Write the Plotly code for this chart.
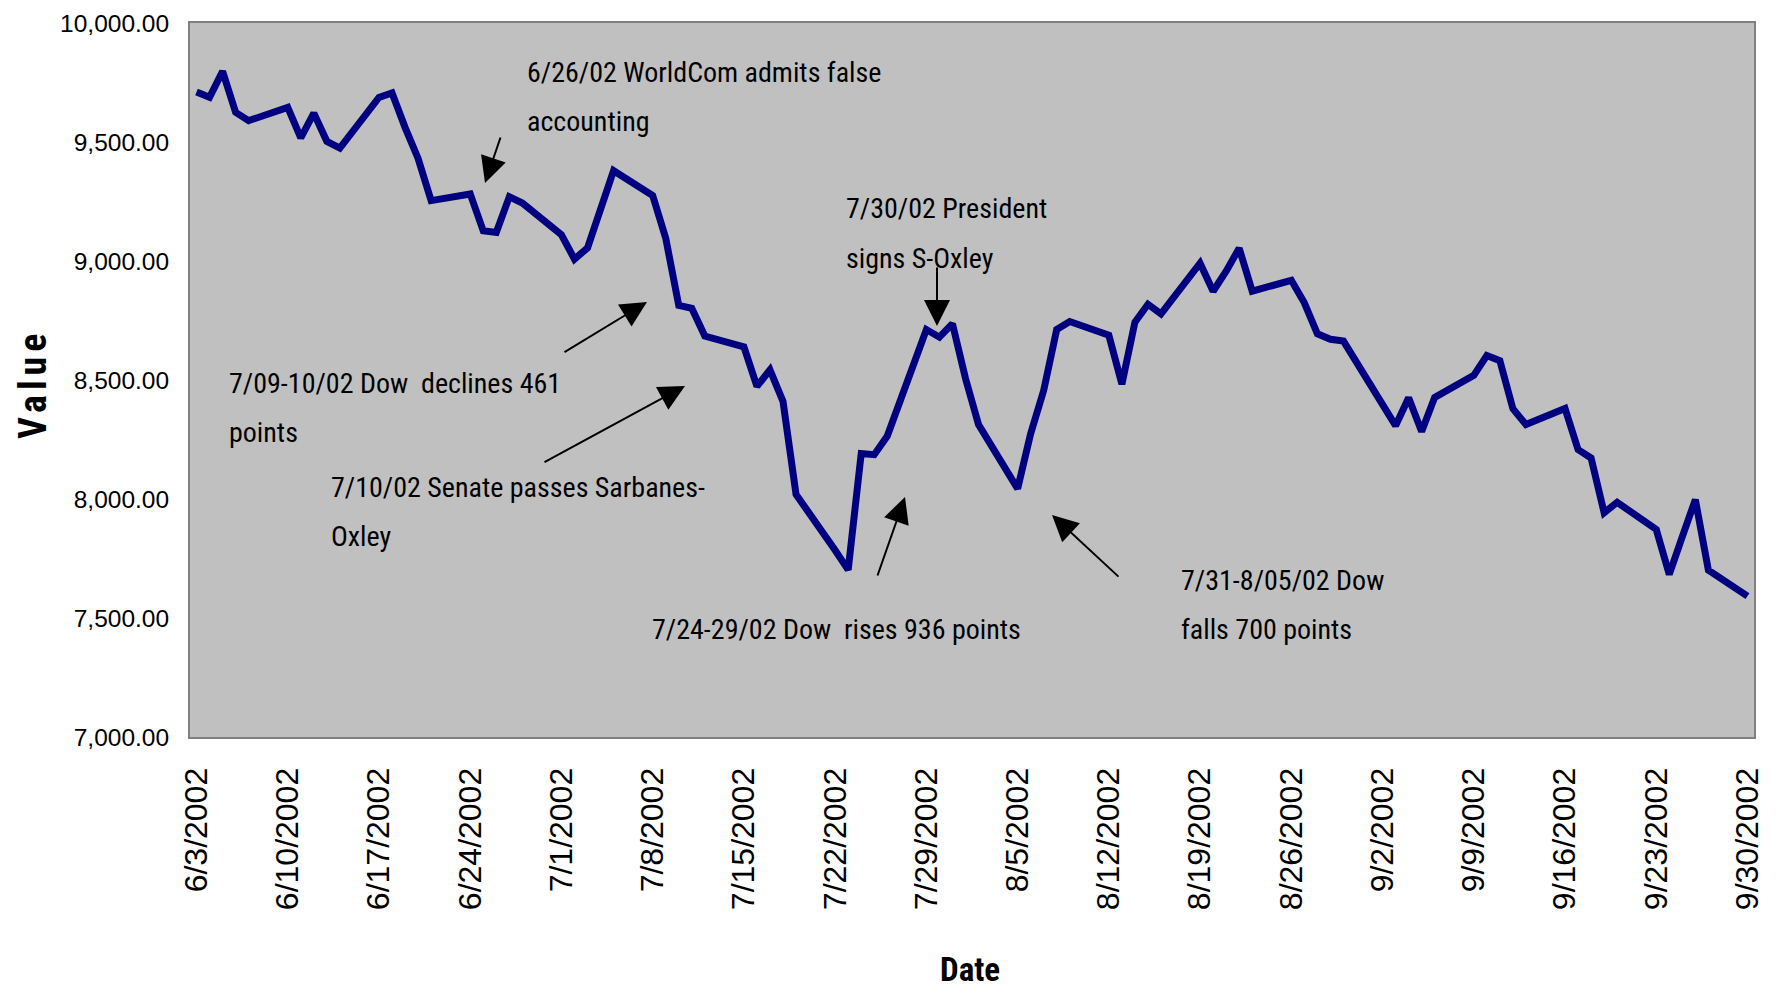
import plotly.graph_objects as go

dates = [
    "2002-06-03", "2002-06-04", "2002-06-05", "2002-06-06", "2002-06-07",
    "2002-06-10", "2002-06-11", "2002-06-12", "2002-06-13", "2002-06-14",
    "2002-06-17", "2002-06-18", "2002-06-19", "2002-06-20", "2002-06-21",
    "2002-06-24", "2002-06-25", "2002-06-26", "2002-06-27", "2002-06-28",
    "2002-07-01", "2002-07-02", "2002-07-03", "2002-07-05",
    "2002-07-08", "2002-07-09", "2002-07-10", "2002-07-11", "2002-07-12",
    "2002-07-15", "2002-07-16", "2002-07-17", "2002-07-18", "2002-07-19",
    "2002-07-22", "2002-07-23", "2002-07-24", "2002-07-25", "2002-07-26",
    "2002-07-29", "2002-07-30", "2002-07-31", "2002-08-01", "2002-08-02",
    "2002-08-05", "2002-08-06", "2002-08-07", "2002-08-08", "2002-08-09",
    "2002-08-12", "2002-08-13", "2002-08-14", "2002-08-15", "2002-08-16",
    "2002-08-19", "2002-08-20", "2002-08-21", "2002-08-22", "2002-08-23",
    "2002-08-26", "2002-08-27", "2002-08-28", "2002-08-29", "2002-08-30",
    "2002-09-03", "2002-09-04", "2002-09-05", "2002-09-06",
    "2002-09-09", "2002-09-10", "2002-09-11", "2002-09-12", "2002-09-13",
    "2002-09-16", "2002-09-17", "2002-09-18", "2002-09-19", "2002-09-20",
    "2002-09-23", "2002-09-24", "2002-09-25", "2002-09-26", "2002-09-27",
    "2002-09-30",
]

values = [
    9709.8, 9687.8, 9796.8, 9624.6, 9589.7,
    9645.4, 9517.3, 9620.9, 9502.8, 9474.2,
    9687.4, 9706.1, 9561.6, 9431.0, 9253.8,
    9281.8, 9126.8, 9120.1, 9269.9, 9243.3,
    9109.8, 9007.8, 9055.0, 9379.5,
    9274.9, 9096.1, 8813.5, 8801.5, 8684.5,
    8639.2, 8473.1, 8542.5, 8409.5, 8019.3,
    7784.6, 7702.3, 8191.3, 8186.3, 8264.4,
    8711.9, 8680.0, 8736.6, 8506.6, 8313.1,
    8043.6, 8274.1, 8456.2, 8712.0, 8745.5,
    8688.0, 8482.4, 8743.3, 8818.1, 8778.1,
    8990.8, 8873.0, 8957.2, 9053.6, 8873.0,
    8919.0, 8824.4, 8694.1, 8671.0, 8663.5,
    8308.1, 8425.1, 8283.7, 8427.2,
    8519.4, 8602.6, 8581.2, 8379.4, 8312.7,
    8380.2, 8207.6, 8172.5, 7942.4, 7986.0,
    7872.2, 7683.1, 7841.8, 7997.1, 7701.5,
    7591.9,
]

tick_dates = [
    "2002-06-03", "2002-06-10", "2002-06-17", "2002-06-24", "2002-07-01",
    "2002-07-08", "2002-07-15", "2002-07-22", "2002-07-29", "2002-08-05",
    "2002-08-12", "2002-08-19", "2002-08-26", "2002-09-02", "2002-09-09",
    "2002-09-16", "2002-09-23", "2002-09-30",
]
tick_labels = [
    "6/3/2002", "6/10/2002", "6/17/2002", "6/24/2002", "7/1/2002",
    "7/8/2002", "7/15/2002", "7/22/2002", "7/29/2002", "8/5/2002",
    "8/12/2002", "8/19/2002", "8/26/2002", "9/2/2002", "9/9/2002",
    "9/16/2002", "9/23/2002", "9/30/2002",
]

y_ticks = [7000, 7500, 8000, 8500, 9000, 9500, 10000]
y_tick_labels = ["7,000.00", "7,500.00", "8,000.00", "8,500.00",
                 "9,000.00", "9,500.00", "10,000.00"]

# Annotations: (lines of text, left x px, first-line center y px) in screen px
notes = [
    (["6/26/02 WorldCom admits false", "accounting"], 525, 73),
    (["7/30/02 President", "signs S-Oxley"], 844, 209),
    (["7/09-10/02 Dow  declines 461", "points"], 227, 383),
    (["7/10/02 Senate passes Sarbanes-", "Oxley"], 329, 487),
    (["7/24-29/02 Dow  rises 936 points"], 650, 629),
    (["7/31-8/05/02 Dow", "falls 700 points"], 1179, 580),
]
# Arrows: head (x px, y px), tail offset (ax, ay) px
arrows = [
    ((485, 183), (16, -47)),
    ((937, 326), (0, -60)),
    ((647, 302), (-84, 51)),
    ((685, 386), (-142, 77)),
    ((905, 497), (-28, 80)),
    ((1052, 515), (68, 63)),
]

OFF = 8  # page body margin
W, H = 1783 - 2 * OFF, 998 - 2 * OFF
L, R, T, B = 190, 1754, 23, 737  # plot area in screen px

def px(x):
    return (x - L) / (R - L)

def py(y):
    return (B - y) / (B - T)

NARROW = "Liberation Sans Narrow, Arial Narrow, Roboto Condensed, sans-serif"

fig = go.Figure()
fig.add_trace(go.Scatter(
    x=dates, y=values, mode="lines",
    line=dict(color="#000080", width=7),
    hoverinfo="x+y", showlegend=False,
))

ann = []
line_gap = 49
for lines, lx, ly in notes:
    for i, t in enumerate(lines):
        ann.append(dict(
            text=t, xref="paper", yref="paper",
            x=px(lx), y=py(ly + i * line_gap),
            xanchor="left", yanchor="middle", showarrow=False,
            font=dict(family=NARROW, size=28, color="black"),
        ))
for (hx, hy), (ax, ay) in arrows:
    ann.append(dict(
        text="", xref="paper", yref="paper", x=px(hx), y=py(hy),
        ax=ax, ay=ay, showarrow=True, arrowhead=2, arrowsize=2.6,
        arrowwidth=2, arrowcolor="black", standoff=0,
    ))

ann.append(dict(
    text='<b><span style="letter-spacing:5px">Value</span></b>',
    xref="paper", yref="paper",
    x=px(33), y=py(384), textangle=-90, showarrow=False,
    xanchor="center", yanchor="middle",
    font=dict(family=NARROW, size=38, color="black"),
))
ann.append(dict(
    text="<b>Date</b>", xref="paper", yref="paper",
    x=px(970), y=py(969), showarrow=False,
    xanchor="center", yanchor="middle",
    font=dict(family=NARROW, size=33, color="black"),
))

fig.update_layout(
    width=W, height=H,
    margin=dict(l=L - OFF, r=W - (R - OFF), t=T - OFF, b=H - (B - OFF),
                autoexpand=False),
    paper_bgcolor="white", plot_bgcolor="#C0C0C0",
    annotations=ann,
    xaxis=dict(
        type="date",
        range=["2002-06-02 12:00", "2002-09-30 12:00"],
        tickvals=tick_dates,
        ticktext=tick_labels,
        tickangle=-90,
        ticks="outside", ticklen=16, tickcolor="rgba(0,0,0,0)",
        tickfont=dict(family="Liberation Sans, Arial, sans-serif", size=32, color="black"),
        showgrid=False, zeroline=False, automargin=False,
        showline=True, linecolor="#808080", linewidth=2, mirror=True,
    ),
    yaxis=dict(
        range=[7000, 10000],
        tickvals=y_ticks, ticktext=y_tick_labels,
        ticks="outside", ticklen=14, tickcolor="rgba(0,0,0,0)",
        tickfont=dict(family="Liberation Sans, Arial, sans-serif", size=24.5, color="black"),
        showgrid=False, zeroline=False, automargin=False,
        showline=True, linecolor="#808080", linewidth=2, mirror=True,
    ),
)

fig.write_html("out.html")
